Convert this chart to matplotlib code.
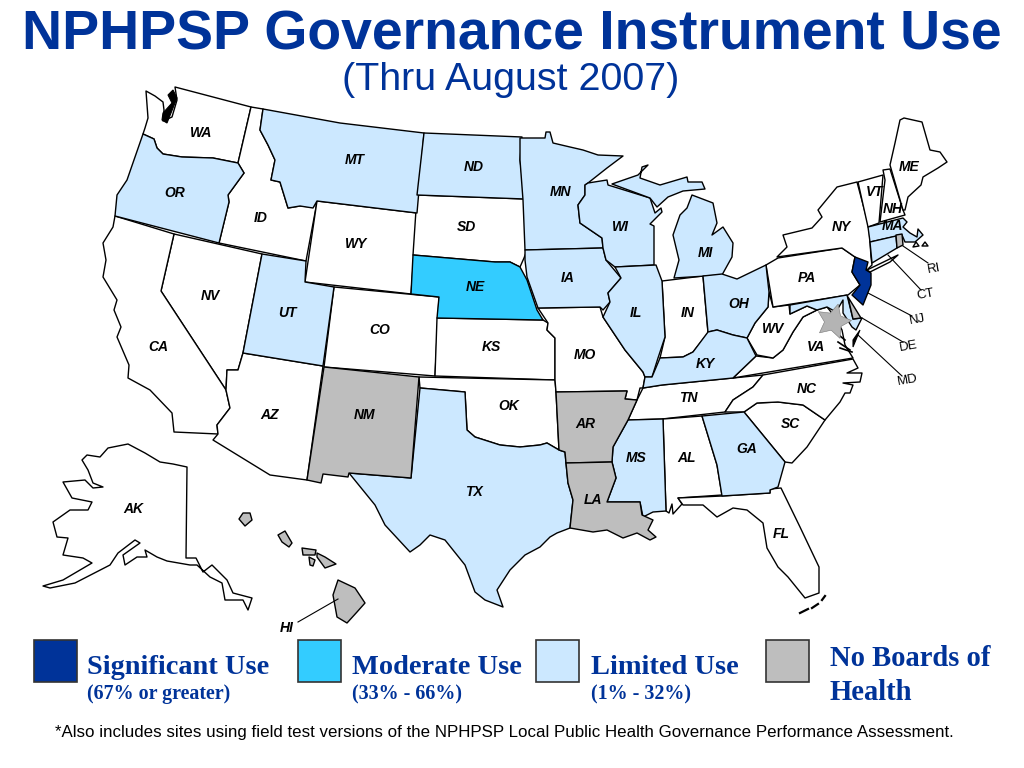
import matplotlib
matplotlib.use('Agg')
import matplotlib.pyplot as plt
from matplotlib.patches import Polygon, Rectangle

# outlines, in picture pixels
WA = [(175,87),(251,107),(238,163),(213,158),(182,157),(163,154),(157,148),(154,139),(143,134),(145,128),(148,118),(146,91),(155,96),(163,102),(164,110),(163,121),(172,117),(177,100)]
OR = [(143,134),(154,139),(157,148),(163,154),(182,157),(213,158),(238,163),(244,173),(228,195),(229,202),(219,243),(115,216),(117,195),(127,180)]
ID = [(251,107),(263,109),(260,130),(268,145),(275,160),(271,180),(280,182),(288,208),(300,206),(313,207),(317,202),(306,261),(219,243),(229,202),(228,195),(244,173),(238,163)]
MT = [(263,109),(340,123),(424,133),(417,213),(317,201),(313,208),(300,206),(288,208),(280,182),(271,180),(275,160),(268,145),(260,130)]
WY = [(317,201),(417,213),(411,294),(305,282)]
UT = [(262,254),(306,261),(305,282),(334,287),(323,366),(243,353)]
CO = [(334,287),(439,297),(435,376),(324,367)]
NV = [(174,234),(262,254),(243,353),(238,370),(227,370),(226,390),(161,291)]
CA = [(115,216),(174,234),(161,291),(226,390),(230,408),(217,425),(218,434),(174,432),(172,413),(150,390),(128,378),(129,365),(117,337),(121,327),(114,310),(117,300),(103,277),(106,260),(103,243),(113,227)]
AZ = [(243,353),(323,366),(307,480),(270,475),(213,440),(218,434),(217,425),(230,408),(226,390),(227,370),(238,370)]
NM = [(324,367),(419,377),(411,478),(349,473),(348,477),(323,474),(321,483),(307,480)]
ND = [(424,133),(522,137),(520,160),(525,199),(417,195)]
SD = [(417,195),(525,199),(527,210),(527,250),(524,258),(520,267),(510,262),(495,262),(413,255)]
NE = [(413,255),(495,262),(510,262),(520,267),(527,280),(532,295),(537,310),(543,320),(437,318),(439,297),(411,294)]
KS = [(437,318),(543,320),(548,323),(547,330),(555,338),(555,380),(435,376)]
OK = [(419,377),(555,380),(556,392),(559,450),(547,443),(540,445),(520,447),(500,445),(475,437),(467,430),(465,392),(420,388)]
TX = [(420,388),(465,392),(467,430),(475,437),(500,445),(520,447),(540,445),(547,443),(559,450),(565,452),(566,463),(568,483),(573,500),(570,528),(557,533),(550,537),(540,547),(525,555),(510,570),(497,590),(503,607),(485,600),(475,592),(465,565),(445,540),(430,535),(420,545),(410,552),(385,525),(375,505),(349,473),(411,478)]
MN = [(520,138),(545,138),(546,132),(550,132),(553,143),(570,147),(583,150),(598,155),(623,156),(607,168),(588,183),(585,185),(585,195),(578,205),(580,223),(602,238),(603,248),(525,250),(523,200),(520,160)]
IA = [(525,250),(603,248),(606,260),(621,278),(608,293),(610,302),(603,310),(600,307),(538,308),(527,277),(525,260)]
MO = [(538,308),(600,307),(603,317),(617,338),(625,350),(643,372),(645,377),(643,388),(640,388),(637,400),(625,399),(627,391),(556,392),(555,380),(555,338),(547,330),(548,323)]
AR = [(556,392),(627,391),(625,399),(637,400),(628,420),(613,447),(612,462),(566,463),(565,452),(559,450)]
LA = [(566,463),(612,462),(616,478),(607,502),(640,502),(642,515),(653,520),(648,530),(656,537),(650,540),(637,533),(623,538),(607,530),(593,532),(570,528),(573,500),(568,483)]
WI = [(588,183),(607,180),(608,185),(650,198),(655,213),(661,208),(662,212),(650,224),(654,226),(654,265),(615,267),(606,260),(603,248),(602,238),(580,223),(578,205),(585,195),(585,185)]
UP = [(612,184),(638,175),(648,165),(642,167),(640,178),(660,185),(687,177),(688,182),(702,182),(705,189),(683,191),(668,197),(657,207),(650,198)]
LP = [(692,195),(713,203),(717,223),(712,235),(723,227),(733,243),(732,257),(722,275),(674,278),(679,260),(673,235),(680,215),(687,208)]
IL = [(615,267),(656,265),(662,281),(665,337),(658,358),(652,377),(645,377),(643,372),(625,350),(617,338),(603,317),(610,302),(608,293),(621,278)]
IN = [(662,281),(703,276),(708,333),(693,352),(683,357),(660,358),(665,337)]
OH = [(703,276),(722,274),(737,279),(766,265),(769,292),(768,307),(755,323),(747,338),(733,335),(717,330),(708,332)]
KY = [(708,332),(717,330),(733,335),(747,338),(756,356),(733,378),(662,385),(643,388),(645,377),(652,377),(660,358),(683,357),(693,352)]
TN = [(643,388),(662,385),(733,378),(763,375),(753,387),(733,400),(725,412),(662,419),(628,420),(637,400)]
MS = [(628,420),(663,419),(666,511),(653,512),(643,517),(640,502),(607,502),(616,478),(612,462),(613,447)]
AL = [(663,419),(702,416),(717,465),(722,495),(678,498),(682,504),(673,514),(672,504),(669,513),(666,511)]
GA = [(702,416),(744,412),(785,462),(778,487),(770,490),(770,493),(722,496),(717,465)]
FL = [(678,498),(722,496),(770,493),(770,489),(781,488),(800,527),(819,567),(819,593),(805,598),(788,577),(778,567),(767,548),(763,523),(747,510),(733,508),(717,517),(703,505),(683,505)]
SC = [(744,412),(757,403),(778,402),(803,405),(825,420),(807,447),(792,463),(785,462)]
NC = [(725,412),(733,400),(753,387),(763,375),(853,359),(858,368),(847,373),(862,373),(860,382),(843,383),(853,385),(850,393),(845,393),(840,402),(825,420),(803,405),(778,402),(757,403),(744,412)]
VA = [(733,378),(756,356),(773,358),(783,350),(793,332),(803,317),(817,310),(827,307),(835,317),(842,330),(845,345),(853,358)]
WV = [(769,292),(773,307),(789,305),(790,314),(807,306),(817,310),(803,317),(793,332),(783,350),(773,358),(757,355),(747,338),(755,323),(768,307)]
PA = [(766,265),(778,258),(842,248),(855,257),(852,272),(860,285),(848,295),(773,307)]
NY = [(777,257),(787,247),(783,235),(812,228),(822,217),(818,210),(837,187),(857,182),(869,227),(871,257),(872,265),(867,270),(855,257),(842,248)]
LI = [(867,270),(898,255),(890,262),(870,272)]
VT = [(858,182),(883,175),(879,223),(868,227)]
NH = [(883,170),(890,169),(903,210),(905,215),(880,222),(885,180)]
ME = [(890,165),(895,143),(900,120),(904,118),(922,122),(930,150),(940,152),(947,162),(938,168),(923,177),(921,185),(908,197),(905,210),(903,210)]
MA = [(868,227),(903,218),(907,222),(903,227),(910,233),(917,237),(918,229),(923,235),(915,242),(905,242),(902,235),(870,242)]
CT = [(870,242),(896,236),(897,248),(872,263)]
RI = [(896,235),(902,234),(903,245),(897,248)]
NJ = [(855,257),(868,262),(866,270),(871,273),(871,285),(863,305),(852,295),(860,285),(852,272)]
DE = [(848,297),(861,318),(853,319)]
MD = [(790,305),(847,295),(853,319),(862,318),(856,330),(852,327),(843,313),(843,300),(836,312),(827,307),(817,310),(807,306),(790,314)]
AK = [(82,460),(87,455),(100,457),(108,448),(128,444),(145,453),(160,462),(173,464),(187,467),(186,558),(196,558),(203,572),(212,565),(227,580),(233,593),(252,598),(248,610),(243,600),(225,600),(222,583),(210,577),(197,565),(190,565),(167,561),(157,557),(145,550),(147,557),(137,557),(125,565),(123,555),(140,543),(135,540),(118,553),(110,565),(75,583),(50,588),(43,586),(63,580),(92,563),(83,558),(63,555),(68,538),(57,537),(53,522),(70,510),(88,510),(92,502),(72,498),(63,482),(85,480),(93,488),(103,487),(93,483),(88,470)]
HI1 = [(338,580),(355,588),(365,603),(357,612),(347,623),(337,617),(333,595)]
HI2 = [(317,553),(325,557),(336,564),(325,568),(317,557)]
HI3 = [(302,548),(316,550),(315,555),(303,555)]
HI4 = [(309,557),(315,560),(313,566),(310,565)]
HI5 = [(278,535),(285,531),(292,543),(289,547),(282,542)]
HI6 = [(243,513),(250,513),(252,520),(245,526),(239,519)]
NANT = [(913,247),(916,242),(919,246)]
MV = [(922,246),(925,242),(928,246)]

# black water bits
PUGET = [(173,90),(177,98),(173,108),(167,123),(162,120),(163,113),(172,103),(168,95)]
CHES = [(860,330),(853,347),(853,340)]
KEY1 = [(800,613),(808,609)]
KEY2 = [(812,608),(818,604)]
KEY3 = [(822,600),(825,596)]
RIV1 = [(835,332),(845,340)]
RIV2 = [(838,342),(850,350)]
RIV3 = [(840,348),(852,352)]

COL_SIG = '#003399'
COL_MOD = '#33CCFF'
COL_LIM = '#CCE8FF'
COL_NONE = '#BEBEBE'
COL_WHITE = 'white'

white_states = [WA, ID, WY, CO, NV, CA, AZ, SD, KS, OK, MO, IN, TN, AL, FL, SC, NC, VA, WV, PA, NY, LI, VT, NH, ME, AK, NANT, MV]
limited_states = [OR, MT, UT, ND, TX, MN, IA, WI, UP, LP, IL, OH, KY, MS, GA, MA, CT, MD]
moderate_states = [NE]
significant_states = [NJ]
none_states = [NM, AR, LA, RI, DE, HI1, HI2, HI3, HI4, HI5, HI6]

labels = ['WA','OR','MT','ND','MN','ME','VT','NH','MA','NY','SD','WY','ID','WI','MI','IA','NE','NV','UT','CO','IL','IN','OH','PA','WV','VA','KS','CA','MO','KY','TN','NC','SC','OK','AZ','NM','AR','GA','MS','AL','LA','TX','AK','FL','HI']
label_x = [201,175,355,474,560,909,875,893,892,841,466,356,261,620,705,568,475,210,287,380,636,688,739,807,773,816,491,158,585,705,688,807,790,509,270,364,585,747,636,687,593,474,133,781,287]
label_y = [133,193,160,167,192,167,192,209,226,227,227,244,218,227,253,278,287,296,313,330,313,313,304,278,329,347,347,347,355,364,398,389,424,406,415,415,424,449,458,458,500,492,509,534,628]

side_labels = ['RI','CT','NJ','DE','MD']
side_x = [934,925,917,908,908]
side_y = [269,295,320,346,380]
lead_from = [(903,246),(888,255),(868,293),(862,318),(858,335)]
lead_to = [(928,263),(921,290),(912,316),(903,342),(902,376)]
hi_lead = [(338,599),(298,622)]

legend_colors = [COL_SIG, COL_MOD, COL_LIM, COL_NONE]
legend_x = [34,298,536,766]
legend_names = ['Significant Use','Moderate Use','Limited Use']
legend_name_x = [87,352,591]
legend_ranges = ['(67% or greater)','(33% - 66%)','(1% - 32%)']

fig = plt.figure(figsize=(10.24,7.68), dpi=100)
ax = fig.add_axes([0,0,1,1])
ax.set_xlim(0,1024)
ax.set_ylim(768,0)
ax.axis('off')

def drawStates(states, color):
    for s in states:
        ax.add_patch(Polygon(s, closed=True, facecolor=color, edgecolor='black', linewidth=1.0, joinstyle='round'))

drawStates(white_states, COL_WHITE)
drawStates(limited_states, COL_LIM)
drawStates(moderate_states, COL_MOD)
drawStates(none_states, COL_NONE)
drawStates(significant_states, COL_SIG)
for s in [PUGET, CHES]:
    ax.add_patch(Polygon(s, closed=True, facecolor='black', edgecolor='black', linewidth=0.8))
for s in [KEY1, KEY2, KEY3]:
    ax.plot([s[0][0],s[1][0]], [s[0][1],s[1][1]], color='black', lw=1.6)
for s in [RIV1, RIV2, RIV3]:
    ax.plot([s[0][0],s[1][0]], [s[0][1],s[1][1]], color='black', lw=1.2)

for i in range(len(side_labels)):
    ax.plot([lead_from[i][0],lead_to[i][0]], [lead_from[i][1],lead_to[i][1]], color='black', lw=0.8)
    ax.text(side_x[i], side_y[i], side_labels[i], family='Liberation Sans', fontsize=9.5, ha='center', va='center', rotation=10, color='black')
ax.plot([hi_lead[0][0],hi_lead[1][0]], [hi_lead[0][1],hi_lead[1][1]], color='black', lw=0.8)

# DC star
ax.plot([833], [321], marker=(5,1,-15), markersize=26, markerfacecolor='#B4B4B4', markeredgecolor='#777777', markeredgewidth=0.4, linestyle='none')

for i in range(len(labels)):
    ax.text(label_x[i], label_y[i], labels[i], family='Liberation Sans', fontsize=10, fontweight='bold', fontstyle='italic', ha='center', va='center', color='black')

ax.text(512, 36, 'NPHPSP Governance Instrument Use', family='Liberation Sans', fontsize=39.9, fontweight='bold', ha='center', va='center', color=COL_SIG)
ax.text(511, 80, '(Thru August 2007)', family='Liberation Sans', fontsize=28.4, ha='center', va='center', color=COL_SIG)

for i in range(4):
    ax.add_patch(Rectangle((legend_x[i],640), 43, 42, facecolor=legend_colors[i], edgecolor='#333333', linewidth=1.2))
for i in range(3):
    ax.text(legend_name_x[i], 667, legend_names[i], family='Liberation Serif', fontsize=20.4, fontweight='bold', ha='left', va='center', color=COL_SIG)
    ax.text(legend_name_x[i], 694, legend_ranges[i], family='Liberation Serif', fontsize=14.4, fontweight='bold', ha='left', va='center', color=COL_SIG)
ax.text(830, 658, 'No Boards of', family='Liberation Serif', fontsize=20.6, fontweight='bold', ha='left', va='center', color=COL_SIG)
ax.text(830, 692, 'Health', family='Liberation Serif', fontsize=20.6, fontweight='bold', ha='left', va='center', color=COL_SIG)

ax.text(504, 733, '*Also includes sites using field test versions of the NPHPSP Local Public Health Governance Performance Assessment.', family='Liberation Sans', fontsize=12.15, ha='center', va='center', color='black')

fig.savefig('out.png', dpi=100)
